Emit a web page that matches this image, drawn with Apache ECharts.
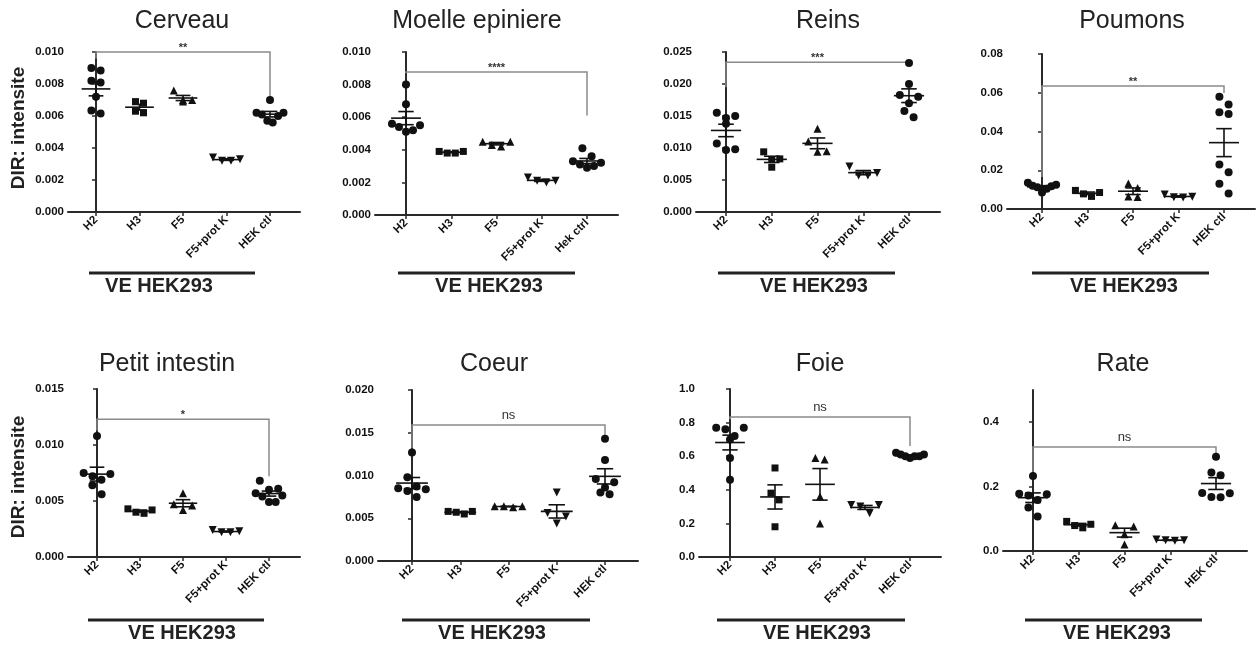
<!DOCTYPE html>
<html><head><meta charset="utf-8">
<script src="https://cdn.jsdelivr.net/npm/echarts@6/dist/echarts.min.js"></script>
<style>html,body{margin:0;padding:0;background:#fff}#c{width:1257px;height:646px}</style>
</head><body><div id="c"></div>
<script>
// ---------- DATA ----------
const groupsStd = ['H2', 'H3', 'F5', 'F5+prot K', 'HEK ctl'];
const groupsMoelle = ['H2', 'H3', 'F5', 'F5+prot K', 'Hek ctrl'];
const panelTitles = ['Cerveau', 'Moelle epiniere', 'Reins', 'Poumons', 'Petit intestin', 'Coeur', 'Foie', 'Rate'];
const yMax = [0.010, 0.010, 0.025, 0.08, 0.015, 0.020, 1.0, 0.5];
const yInterval = [0.002, 0.002, 0.005, 0.02, 0.005, 0.005, 0.2, 0.2];
const yDecimals = [3, 3, 3, 2, 3, 3, 1, 1];
const rateTicks = [0, 0.2, 0.4];

const cerveau = [
  [0.0090, 0.00885, 0.0081, 0.0082, 0.0072, 0.00635, 0.00615],
  [0.0069, 0.0068, 0.0063, 0.0062],
  [0.0070, 0.0069, 0.0070, 0.0076],
  [0.0033, 0.0032, 0.0032, 0.0034],
  [0.0070, 0.0062, 0.0062, 0.0061, 0.0060, 0.0057, 0.0056]
];
const moelle = [
  [0.0080, 0.0068, 0.0056, 0.0055, 0.0054, 0.0052, 0.0051],
  [0.0038, 0.0038, 0.0039, 0.0039],
  [0.0045, 0.0043, 0.0042, 0.0045],
  [0.0021, 0.0020, 0.0021, 0.0023],
  [0.0041, 0.0036, 0.0033, 0.0032, 0.0031, 0.0030, 0.0029]
];
const reins = [
  [0.0155, 0.0150, 0.0147, 0.0138, 0.0107, 0.0098, 0.0097],
  [0.0094, 0.0083, 0.0082, 0.0070],
  [0.0130, 0.0110, 0.0095, 0.0094],
  [0.0061, 0.0057, 0.0057, 0.0071],
  [0.0233, 0.0200, 0.0183, 0.0180, 0.0170, 0.0158, 0.0148]
];
const poumons = [
  [0.0135, 0.0125, 0.0120, 0.0118, 0.0112, 0.0105, 0.0085],
  [0.0096, 0.0085, 0.0078, 0.0065],
  [0.0132, 0.0108, 0.0065, 0.0062],
  [0.0063, 0.0060, 0.0061, 0.0075],
  [0.058, 0.054, 0.050, 0.049, 0.023, 0.019, 0.013, 0.008]
];
const petitIntestin = [
  [0.0108, 0.0075, 0.0074, 0.0072, 0.0069, 0.0064, 0.0056],
  [0.0042, 0.0039, 0.0040, 0.0043],
  [0.0057, 0.0047, 0.0046, 0.0042],
  [0.0022, 0.0022, 0.0023, 0.0024],
  [0.0068, 0.0061, 0.0060, 0.0057, 0.0055, 0.0054, 0.0049, 0.0049]
];
const coeur = [
  [0.0127, 0.0098, 0.0087, 0.0085, 0.0084, 0.0082, 0.0075],
  [0.0057, 0.0055, 0.0058, 0.0058],
  [0.0064, 0.0063, 0.0064, 0.0064],
  [0.0080, 0.0056, 0.0052, 0.0044],
  [0.0143, 0.0118, 0.0096, 0.0092, 0.0086, 0.0080, 0.0078]
];
const foie = [
  [0.77, 0.76, 0.77, 0.72, 0.70, 0.59, 0.46],
  [0.53, 0.38, 0.34, 0.18],
  [0.59, 0.58, 0.36, 0.20],
  [0.31, 0.30, 0.31, 0.26],
  [0.61, 0.60, 0.60, 0.59, 0.61, 0.62, 0.60]
];
const rate = [
  [0.233, 0.178, 0.176, 0.172, 0.158, 0.135, 0.107],
  [0.083, 0.079, 0.072, 0.092],
  [0.080, 0.076, 0.052, 0.020],
  [0.033, 0.032, 0.033, 0.036],
  [0.293, 0.244, 0.235, 0.180, 0.179, 0.168, 0.167]
];

const bracketLevel = [0.0100, 0.00877, 0.0234, 0.0635, 0.0123, 0.0159, 0.833, 0.323];
const bracketLeftEnd = [0.0096, 0.0087, 0.0195, 0.0165, 0.0113, 0.0132, 0.82, 0.236];
const bracketRightEnd = [0.0072, 0.0061, 0.0230, 0.0599, 0.0072, 0.0147, 0.66, 0.304];
const bracketLabel = ['**', '****', '***', '**', '*', 'ns', 'ns', 'ns'];
const groupLabel = 'VE HEK293';
const yAxisTitle = 'DIR: intensite';

// ---------- LAYOUT (pixels) ----------
const panelValues = [cerveau, moelle, reins, poumons, petitIntestin, coeur, foie, rate];
const panelGroups = [groupsStd, groupsMoelle, groupsStd, groupsStd, groupsStd, groupsStd, groupsStd, groupsStd];
const LAYOUT = [
  {axisX: 68, cat0: 96, sp: 43.5, right: 300, top: 52, bottom: 212, titleX: 182, veX1: 89, veX2: 255, veTX: 159},
  {axisX: 375, cat0: 406, sp: 45.25, right: 618, top: 52, bottom: 215, titleX: 477, veX1: 398, veX2: 575, veTX: 489},
  {axisX: 696, cat0: 726, sp: 45.75, right: 940, top: 52, bottom: 212, titleX: 828, veX1: 718, veX2: 895, veTX: 814},
  {axisX: 1007, cat0: 1042, sp: 45.5, right: 1255, top: 54, bottom: 209, titleX: 1132, veX1: 1032, veX2: 1209, veTX: 1124},
  {axisX: 68, cat0: 97, sp: 43, right: 300, top: 389, bottom: 557, titleX: 167, veX1: 88, veX2: 264, veTX: 182},
  {axisX: 378, cat0: 412, sp: 48.25, right: 638, top: 390, bottom: 561, titleX: 494, veX1: 402, veX2: 590, veTX: 492},
  {axisX: 699, cat0: 730, sp: 45, right: 941, top: 389, bottom: 557, titleX: 820, veX1: 717, veX2: 905, veTX: 817},
  {axisX: 1003, cat0: 1033, sp: 45.75, right: 1247, top: 390, bottom: 551, titleX: 1123, veX1: 1025, veX2: 1202, veTX: 1117}
];
const ROW = [
  {titleY: 21, veLineY: 273, veTextY: 286, yNameY: 128},
  {titleY: 364, veLineY: 620, veTextY: 633, yNameY: 477}
];
const FONT = '"Liberation Sans", Arial, sans-serif';
const INK = '#111';
const AXIS = '#2a2a2a';
const symbols = ['circle', 'rect', 'triangle', 'path://M0,0 L10,0 L5,9 Z', 'circle'];
const symbolSizes = [8, 7, 8, 8, 8];

// Prism-like row spreading: points whose values fall close together share a row, spread symmetrically
function spread(values, sp, pxPerUnit, size) {
  const order = values.map((v, i) => i).sort((a, b) => values[b] - values[a]);
  const rows = [];
  order.forEach(i => {
    const last = rows[rows.length - 1];
    if (last && (last.top - values[i]) * pxPerUnit < size * 1.3) last.items.push(i);
    else rows.push({top: values[i], items: [i]});
  });
  const out = new Array(values.length);
  const maxW = 0.62 * sp;
  rows.forEach(r => {
    const n = r.items.length;
    const step = n > 1 ? Math.min(size * 1.15, maxW / (n - 1)) : 0;
    // outer slots first (higher values at the edges), alternating left / right
    const slots = [];
    let lo = 0, hi = n - 1, left = true;
    while (lo <= hi) { slots.push(left ? lo++ : hi--); left = !left; }
    r.items.forEach((i, k) => { out[i] = ((slots[k] - (n - 1) / 2) * step) / sp; });
  });
  return out;
}
function meanSem(arr) {
  const n = arr.length;
  const m = arr.reduce((a, b) => a + b, 0) / n;
  const sd = Math.sqrt(arr.reduce((a, b) => a + (b - m) * (b - m), 0) / (n - 1));
  return [m, sd / Math.sqrt(n)];
}

const grids = [], xAxes = [], yAxes = [], series = [], graphics = [];
LAYOUT.forEach((L, p) => {
  const cats = panelGroups[p];
  const row = ROW[p < 4 ? 0 : 1];
  grids.push({left: L.axisX, top: L.top, width: L.right - L.axisX, height: L.bottom - L.top});
  const xmin = -(L.cat0 - L.axisX) / L.sp, xmax = (L.right - L.cat0) / L.sp;
  xAxes.push({
    type: 'value', gridIndex: p, min: xmin, max: xmax,
    axisLine: {show: true, lineStyle: {color: AXIS, width: 2}},
    axisTick: {show: true, customValues: [0, 1, 2, 3, 4], length: 4, lineStyle: {color: AXIS, width: 1.5}},
    axisLabel: {
      customValues: [0, 1, 2, 3, 4], rotate: 45, margin: 6,
      formatter: v => cats[Math.round(v)], color: INK, fontFamily: FONT, fontWeight: 'bold', fontSize: 11.5
    },
    splitLine: {show: false}
  });
  const ticks = p === 7 ? rateTicks : Array.from({length: Math.round(yMax[p] / yInterval[p]) + 1}, (_, i) => +(i * yInterval[p]).toFixed(6));
  yAxes.push({
    type: 'value', gridIndex: p, min: 0, max: yMax[p],
    axisLine: {show: true, lineStyle: {color: AXIS, width: 2}},
    axisTick: {show: true, customValues: ticks, length: 4, lineStyle: {color: AXIS, width: 1.5}},
    axisLabel: {customValues: ticks, formatter: v => v.toFixed(yDecimals[p]), color: INK, fontFamily: FONT, fontWeight: 'bold', fontSize: 11.5, margin: 4},
    splitLine: {show: false}
  });
  const pxPerUnit = (L.bottom - L.top) / yMax[p];
  const stats = [];
  panelValues[p].forEach((vals, g) => {
    const offs = spread(vals, L.sp, pxPerUnit, symbolSizes[g]);
    series.push({
      type: 'scatter', xAxisIndex: p, yAxisIndex: p, symbol: symbols[g], symbolSize: symbolSizes[g],
      itemStyle: {color: INK, opacity: 1}, z: 3, silent: true,
      data: vals.map((v, i) => [g + offs[i], v])
    });
    const ms = meanSem(vals);
    stats.push([g, ms[0], ms[1]]);
  });
  series.push({
    type: 'custom', xAxisIndex: p, yAxisIndex: p, z: 4, silent: true, data: stats,
    renderItem: (params, api) => {
      const x = api.value(0), m = api.value(1), s = api.value(2);
      const st = {stroke: INK, lineWidth: 1.6};
      const seg = (a, b) => ({type: 'line', shape: {x1: a[0], y1: a[1], x2: b[0], y2: b[1]}, style: st});
      return {type: 'group', children: [
        seg(api.coord([x - 0.33, m]), api.coord([x + 0.33, m])),
        seg(api.coord([x, m - s]), api.coord([x, m + s])),
        seg(api.coord([x - 0.17, m + s]), api.coord([x + 0.17, m + s])),
        seg(api.coord([x - 0.17, m - s]), api.coord([x + 0.17, m - s]))
      ]};
    }
  });
  const lab = bracketLabel[p];
  series.push({
    type: 'custom', xAxisIndex: p, yAxisIndex: p, z: 2, silent: true,
    data: [[bracketLevel[p], bracketLeftEnd[p], bracketRightEnd[p]]],
    renderItem: (params, api) => {
      const lv = api.value(0), le = api.value(1), re = api.value(2);
      const p0 = api.coord([0, le]), p1 = api.coord([0, lv]), p2 = api.coord([4, lv]), p3 = api.coord([4, re]);
      const mid = api.coord([2, lv]);
      const isNs = lab === 'ns';
      return {type: 'group', children: [
        {type: 'polyline', shape: {points: [p0, p1, p2, p3]}, style: {stroke: '#8a8a8a', lineWidth: 1.5, fill: null}},
        {type: 'text', x: mid[0], y: isNs ? mid[1] - 3 : mid[1] + 1,
          style: {text: lab, align: 'center', verticalAlign: 'bottom', textAlign: 'center', textVerticalAlign: 'bottom',
            fontFamily: FONT, fontSize: isNs ? 13 : 11, fontWeight: isNs ? 'normal' : 'bold', fill: '#333'}}
      ]};
    }
  });
  graphics.push({type: 'text', x: L.titleX, y: row.titleY,
    style: {text: panelTitles[p], align: 'center', verticalAlign: 'middle', textAlign: 'center', textVerticalAlign: 'middle',
      fontFamily: FONT, fontSize: 25, fill: '#222'}});
  graphics.push({type: 'line', shape: {x1: L.veX1, y1: row.veLineY, x2: L.veX2, y2: row.veLineY}, style: {stroke: '#222', lineWidth: 3}});
  graphics.push({type: 'text', x: L.veTX, y: row.veTextY,
    style: {text: groupLabel, align: 'center', verticalAlign: 'middle', textAlign: 'center', textVerticalAlign: 'middle',
      fontFamily: FONT, fontSize: 20, fontWeight: 'bold', fill: '#222'}});
});
ROW.forEach(r => {
  graphics.push({type: 'text', x: 19, y: r.yNameY, rotation: Math.PI / 2,
    style: {text: yAxisTitle, align: 'center', verticalAlign: 'middle', textAlign: 'center', textVerticalAlign: 'middle',
      fontFamily: FONT, fontSize: 19, fontWeight: 'bold', fill: '#222'}});
});

const chart = echarts.init(document.getElementById('c'));
chart.setOption({
  animation: false, backgroundColor: '#fff',
  grid: grids, xAxis: xAxes, yAxis: yAxes, series, graphic: graphics
});
</script></body></html>
